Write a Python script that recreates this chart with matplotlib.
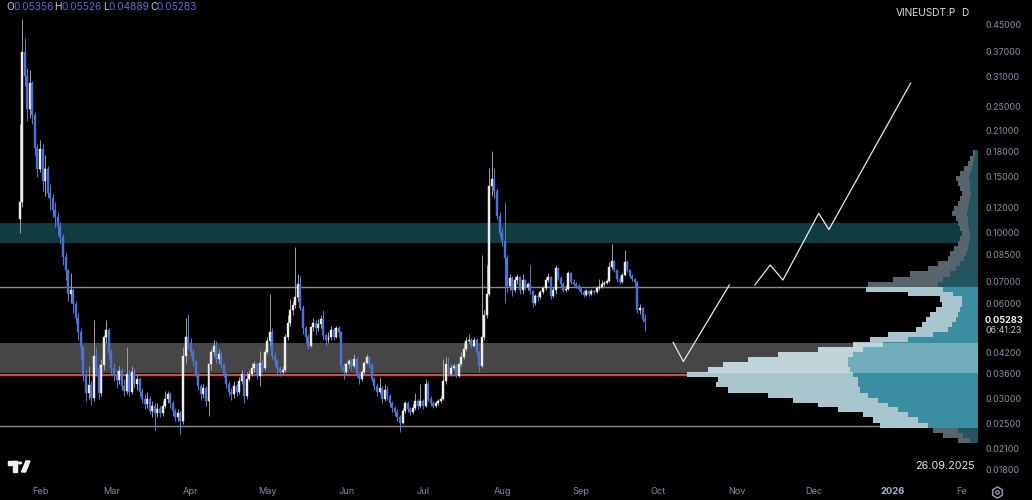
import numpy as np
import pandas as pd
import matplotlib
matplotlib.use("Agg")
import matplotlib.pyplot as plt
import matplotlib.dates as mdates
from matplotlib.patches import Rectangle, Polygon, Circle
from matplotlib.lines import Line2D

plt.rcParams['font.family'] = ['Inter', 'DejaVu Sans']

# ---------------- data ----------------
first_day = '2025-01-24'
first_open = 0.11

close = [
    0.125, 0.37, 0.31, 0.245, 0.295, 0.235, 0.185, 0.158, 0.183, 0.145,
    0.158, 0.133, 0.128, 0.118, 0.112, 0.105, 0.097, 0.084, 0.076, 0.064,
    0.066, 0.0595, 0.054, 0.0485, 0.0435, 0.0357, 0.0313, 0.0332, 0.0302, 0.041,
    0.0376, 0.0313, 0.0384, 0.0468, 0.0495, 0.0419, 0.0376, 0.0357, 0.0344, 0.0368,
    0.0330, 0.0318, 0.036, 0.0315, 0.0365, 0.0335, 0.0345, 0.0315, 0.0300, 0.0288,
    0.0300, 0.0275, 0.0285, 0.0270, 0.0278, 0.0270, 0.0285, 0.0300, 0.0310, 0.0290,
    0.0275, 0.0262, 0.0270, 0.0255, 0.041, 0.047, 0.045, 0.042, 0.0395, 0.036,
    0.033, 0.031, 0.0325, 0.0295, 0.0385, 0.042, 0.044, 0.040, 0.0415, 0.0385,
    0.036, 0.0335, 0.0315, 0.0310, 0.0330, 0.0315, 0.0340, 0.0360, 0.0305, 0.0345,
    0.0360, 0.0375, 0.0385, 0.0355, 0.039, 0.0375, 0.042, 0.0455, 0.0485, 0.041,
    0.0395, 0.0375, 0.0365, 0.037, 0.047, 0.052, 0.057, 0.059, 0.0625, 0.069,
    0.058, 0.050, 0.047, 0.044, 0.0505, 0.052, 0.050, 0.0515, 0.0535, 0.0475,
    0.046, 0.047, 0.0495, 0.047, 0.050, 0.0485, 0.038, 0.0365, 0.0385, 0.0395,
    0.038, 0.040, 0.036, 0.0345, 0.0365, 0.039, 0.0405, 0.0385, 0.0345, 0.033,
    0.0315, 0.0325, 0.0300, 0.0320, 0.0305, 0.0290, 0.0280, 0.0272, 0.0262, 0.0252,
    0.0275, 0.0290, 0.0278, 0.0272, 0.0280, 0.0295, 0.0285, 0.0295, 0.0285, 0.0335,
    0.0300, 0.0290, 0.0285, 0.0290, 0.0295, 0.0300, 0.0340, 0.0385, 0.036, 0.0375,
    0.038, 0.0355, 0.0385, 0.0405, 0.043, 0.0455, 0.046, 0.044, 0.046, 0.042,
    0.038, 0.047, 0.055, 0.064, 0.140, 0.147, 0.135, 0.113, 0.100, 0.094,
    0.083, 0.068, 0.072, 0.066, 0.071, 0.0725, 0.066, 0.071, 0.0675, 0.069,
    0.0655, 0.060, 0.063, 0.0625, 0.065, 0.067, 0.071, 0.0725, 0.063, 0.066,
    0.0775, 0.072, 0.069, 0.066, 0.0665, 0.0745, 0.070, 0.069, 0.068, 0.0665,
    0.065, 0.0635, 0.0655, 0.064, 0.0655, 0.065, 0.067, 0.0675, 0.069, 0.0695,
    0.0705, 0.078, 0.0815, 0.076, 0.0715, 0.070, 0.0735, 0.081, 0.0765, 0.073,
    0.0715, 0.070, 0.057, 0.058, 0.05356, 0.05283,
]

high = [
    0.22, 0.47, 0.41, 0.33, 0.325, 0.30, 0.24, 0.19, 0.196, 0.19,
    0.175, 0.162, 0.142, 0.132, 0.125, 0.116, 0.108, 0.099, 0.086, 0.077,
    0.0745, 0.067, 0.061, 0.056, 0.050, 0.044, 0.037, 0.038, 0.034, 0.053,
    0.0435, 0.0385, 0.040, 0.0475, 0.053, 0.050, 0.043, 0.039, 0.037, 0.038,
    0.0375, 0.0345, 0.0435, 0.037, 0.038, 0.0375, 0.036, 0.035, 0.0325, 0.031,
    0.0315, 0.0305, 0.0295, 0.029, 0.029, 0.0285, 0.0295, 0.0318, 0.0318, 0.0315,
    0.0295, 0.028, 0.0278, 0.0275, 0.0435, 0.054, 0.0555, 0.0465, 0.043, 0.040,
    0.0365, 0.0335, 0.0335, 0.033, 0.039, 0.043, 0.046, 0.0455, 0.043, 0.042,
    0.039, 0.0365, 0.034, 0.0325, 0.034, 0.0335, 0.035, 0.037, 0.0365, 0.0365,
    0.037, 0.039, 0.0395, 0.039, 0.0425, 0.040, 0.043, 0.047, 0.064, 0.050,
    0.042, 0.040, 0.038, 0.038, 0.048, 0.055, 0.062, 0.061, 0.090, 0.074,
    0.073, 0.059, 0.051, 0.048, 0.051, 0.054, 0.053, 0.0535, 0.055, 0.057,
    0.048, 0.0485, 0.051, 0.050, 0.051, 0.051, 0.049, 0.039, 0.039, 0.040,
    0.040, 0.0415, 0.0405, 0.0365, 0.037, 0.0395, 0.0415, 0.041, 0.039, 0.035,
    0.0335, 0.035, 0.033, 0.0335, 0.033, 0.031, 0.0295, 0.0285, 0.0278, 0.0266,
    0.028, 0.0295, 0.0296, 0.0282, 0.0288, 0.0312, 0.030, 0.0335, 0.030, 0.0345,
    0.034, 0.0305, 0.0295, 0.0296, 0.030, 0.0305, 0.040, 0.0405, 0.0405, 0.0385,
    0.039, 0.0385, 0.039, 0.042, 0.045, 0.047, 0.048, 0.0465, 0.047, 0.0465,
    0.0425, 0.085, 0.057, 0.079, 0.160, 0.180, 0.160, 0.138, 0.116, 0.103,
    0.125, 0.085, 0.074, 0.073, 0.073, 0.074, 0.073, 0.074, 0.0715, 0.070,
    0.079, 0.066, 0.064, 0.0645, 0.066, 0.068, 0.0725, 0.0745, 0.073, 0.0675,
    0.079, 0.078, 0.073, 0.070, 0.0685, 0.0755, 0.075, 0.0715, 0.070, 0.069,
    0.0675, 0.066, 0.0665, 0.066, 0.0665, 0.066, 0.068, 0.0715, 0.071, 0.0705,
    0.0715, 0.081, 0.092, 0.082, 0.077, 0.073, 0.0745, 0.088, 0.082, 0.077,
    0.074, 0.072, 0.0705, 0.0595, 0.0585, 0.05526,
]

low = [
    0.10, 0.12, 0.29, 0.225, 0.23, 0.22, 0.175, 0.150, 0.155, 0.135,
    0.13, 0.128, 0.118, 0.112, 0.104, 0.098, 0.092, 0.079, 0.071, 0.061,
    0.060, 0.056, 0.052, 0.046, 0.040, 0.034, 0.0295, 0.030, 0.0287, 0.0295,
    0.0355, 0.030, 0.0305, 0.037, 0.045, 0.040, 0.036, 0.034, 0.0325, 0.0335,
    0.032, 0.0305, 0.031, 0.0305, 0.031, 0.0325, 0.032, 0.0305, 0.0292, 0.0278,
    0.028, 0.0268, 0.0262, 0.0240, 0.0262, 0.0262, 0.0265, 0.028, 0.0292, 0.028,
    0.0265, 0.0255, 0.0255, 0.0233, 0.025, 0.039, 0.043, 0.041, 0.038, 0.035,
    0.032, 0.0298, 0.0302, 0.0285, 0.0265, 0.037, 0.041, 0.039, 0.0385, 0.0375,
    0.035, 0.0325, 0.0305, 0.0298, 0.0302, 0.0305, 0.031, 0.0335, 0.029, 0.030,
    0.034, 0.0355, 0.0365, 0.0345, 0.033, 0.0365, 0.037, 0.0415, 0.044, 0.040,
    0.038, 0.0355, 0.0355, 0.036, 0.0365, 0.046, 0.051, 0.055, 0.058, 0.061,
    0.057, 0.048, 0.045, 0.043, 0.0435, 0.049, 0.048, 0.049, 0.050, 0.046,
    0.044, 0.045, 0.046, 0.046, 0.0465, 0.047, 0.037, 0.0345, 0.036, 0.0375,
    0.037, 0.0375, 0.035, 0.0335, 0.034, 0.036, 0.0385, 0.0375, 0.034, 0.032,
    0.0305, 0.031, 0.029, 0.0295, 0.0298, 0.0282, 0.0272, 0.0265, 0.0255, 0.0235,
    0.025, 0.027, 0.0272, 0.0266, 0.0268, 0.0276, 0.0278, 0.028, 0.0278, 0.0282,
    0.0295, 0.0284, 0.028, 0.0282, 0.0286, 0.029, 0.0298, 0.0335, 0.0355, 0.0355,
    0.037, 0.035, 0.035, 0.038, 0.040, 0.0425, 0.045, 0.0432, 0.0435, 0.041,
    0.0365, 0.0375, 0.046, 0.054, 0.063, 0.130, 0.128, 0.110, 0.097, 0.091,
    0.060, 0.065, 0.066, 0.063, 0.065, 0.069, 0.064, 0.064, 0.066, 0.066,
    0.064, 0.0585, 0.059, 0.061, 0.062, 0.064, 0.066, 0.070, 0.062, 0.0625,
    0.064, 0.071, 0.0675, 0.065, 0.065, 0.066, 0.069, 0.068, 0.067, 0.0655,
    0.064, 0.0625, 0.063, 0.063, 0.0635, 0.064, 0.0645, 0.066, 0.067, 0.068,
    0.069, 0.070, 0.077, 0.075, 0.070, 0.069, 0.0695, 0.073, 0.075, 0.072,
    0.0705, 0.068, 0.056, 0.0555, 0.0525, 0.04889,
]

# levels drawn on the chart
supply_zone = (0.0930, 0.1068)
demand_zone = (0.0362, 0.0448)
va_high = 0.0674
va_low = 0.0246
poc = 0.0357

# projected path (two pieces)
proj1_dates = ['2025-10-07', '2025-10-11', '2025-10-29']
proj1_price = [0.0451, 0.0393, 0.0684]
proj2_dates = ['2025-11-08', '2025-11-14', '2025-11-19', '2025-12-03', '2025-12-07', '2026-01-08']
proj2_price = [0.0684, 0.0791, 0.0709, 0.1149, 0.1022, 0.295]

# visible-range volume profile
vp_price = [0.178, 0.171, 0.1645, 0.1585, 0.1535, 0.148, 0.1425, 0.1375, 0.133, 0.128,
            0.1235, 0.119, 0.1149, 0.1107, 0.1068, 0.1030, 0.0993, 0.0957, 0.0923, 0.0890,
            0.0857, 0.0827, 0.0797, 0.0769, 0.0741, 0.0714, 0.0689, 0.0664, 0.0641, 0.0618,
            0.0596, 0.0574, 0.0553, 0.0534, 0.0514, 0.0496, 0.0478, 0.0461, 0.0445, 0.0429,
            0.0413, 0.0398, 0.0384, 0.0370, 0.0357, 0.0344, 0.0332, 0.0320, 0.0308, 0.0297,
            0.0287, 0.0277, 0.0267, 0.0257, 0.0248, 0.0239, 0.0231, 0.0222]
vp_total = [0.5, 0.8, 1.0, 1.4, 1.8, 2.2, 2.0, 1.8, 1.6, 1.8,
            2.0, 2.4, 2.6, 2.2, 2.0, 1.8, 1.6, 1.8, 2.0, 2.4,
            2.8, 3.0, 4.0, 5.0, 6.8, 8.5, 11.0, 11.2, 7.0, 3.8,
            3.6, 4.2, 4.8, 5.2, 5.6, 6.2, 9.0, 10.8, 12.5, 16.0,
            20.0, 23.0, 25.5, 27.0, 29.1, 26.0, 26.2, 25.0, 21.0, 18.5,
            16.0, 14.0, 11.5, 10.5, 9.8, 4.5, 3.5, 2.0]
vp_up = [0.3, 0.4, 0.5, 0.6, 0.8, 0.9, 0.8, 0.8, 0.7, 0.8,
         0.9, 1.0, 1.1, 1.0, 1.0, 0.9, 0.8, 0.8, 0.9, 1.0,
         1.2, 1.4, 1.8, 2.2, 2.8, 3.5, 4.0, 3.5, 2.5, 1.6,
         1.6, 1.8, 2.0, 2.2, 2.6, 3.0, 4.5, 7.0, 9.5, 11.5,
         12.5, 13.0, 13.0, 12.8, 12.5, 12.0, 12.0, 11.8, 11.0, 10.0,
         9.0, 8.0, 7.0, 6.0, 5.0, 2.0, 1.5, 0.8]

price_ticks = [0.45, 0.37, 0.31, 0.25, 0.21, 0.18, 0.15, 0.12, 0.10, 0.085,
               0.07, 0.06, 0.042, 0.036, 0.03, 0.025, 0.021, 0.018]
month_ticks = ['2025-02-01', '2025-03-01', '2025-04-01', '2025-05-01', '2025-06-01',
               '2025-07-01', '2025-08-01', '2025-09-01', '2025-10-01', '2025-11-01',
               '2025-12-01', '2026-01-01', '2026-02-01']
month_labels = ['Feb', 'Mar', 'Apr', 'May', 'Jun', 'Jul', 'Aug', 'Sep', 'Oct', 'Nov',
                'Dec', '2026', 'Fe']

# ---------------- figure ----------------
W, H = 1032, 500
fig = plt.figure(figsize=(W / 100, H / 100), dpi=100, facecolor='black')
PLOT_R, PLOT_B = 978, 478
ax = fig.add_axes([0, (H - PLOT_B) / H, PLOT_R / W, PLOT_B / H])
ax.set_yscale('log')
ax.set_ylim(0.0169, 0.539)
x0 = mdates.date2num(pd.Timestamp('2025-01-16 08:00'))
x1 = mdates.date2num(pd.Timestamp('2026-02-03 09:30'))
ax.set_xlim(x0, x1)

ax2 = ax.twiny()
ax2.set_xlim(97.8, 0)
ax.set_zorder(ax2.get_zorder() + 1)
ax.patch.set_visible(False)
ax2.patch.set_visible(False)
fig.patch.set_facecolor('black')

for a in (ax, ax2):
    for s in a.spines.values():
        s.set_visible(False)
ax2.xaxis.set_visible(False)

# background levels (under the profile)
ax2.axhspan(supply_zone[0], supply_zone[1], color='#103b40', lw=0, zorder=0.5)
ax2.axhline(va_high, color='#8a8a8a', lw=1.0, zorder=0.8)
ax2.axhline(va_low, color='#8a8a8a', lw=1.0, zorder=0.8)
ax2.axhline(poc, color='#c4514b', lw=1.7, zorder=0.8)

# volume profile
lp = np.log(np.array(vp_price))
mids = (lp[:-1] + lp[1:]) / 2
edges = np.concatenate([[lp[0] + (lp[0] - mids[0])], mids, [lp[-1] - (mids[-1] - lp[-1])]])
top = np.exp(edges[:-1])
bot = np.exp(edges[1:])
in_va = [(va_low <= p <= va_high) for p in vp_price]
c_tot = ['#a9c5cd' if v else '#56666c' for v in in_va]
c_up = ['#3b8ea1' if v else '#235560' for v in in_va]
ax2.barh(bot, vp_total, height=top - bot, left=0, align='edge', color=c_tot, lw=0, zorder=1)
ax2.barh(bot, vp_up, height=top - bot, left=0, align='edge', color=c_up, lw=0, zorder=1.1)

# demand zone overlay (on top of profile, under candles)
ax.axhspan(demand_zone[0], demand_zone[1], color='white', alpha=0.28, lw=0, zorder=1)

# candles
dates = pd.date_range(first_day, periods=len(close), freq='D')
xd = mdates.date2num(dates)
opens = [first_open] + close[:-1]
o = np.array(opens); c = np.array(close)
h = np.maximum.reduce([np.array(high), o, c])
l = np.minimum.reduce([np.array(low), o, c])
up = c >= o
body_lo = np.minimum(o, c)
body_h = np.abs(c - o)
up_body, dn_body = '#ededed', '#4d72d6'
up_wick, dn_wick = '#a0a0a0', '#5b79cf'
ax.vlines(xd[up], l[up], h[up], color=up_wick, lw=0.7, zorder=3)
ax.vlines(xd[~up], l[~up], h[~up], color=dn_wick, lw=0.7, zorder=3)
ax.bar(xd[up], body_h[up], bottom=body_lo[up], width=0.78, color=up_body,
       edgecolor=up_body, lw=0.3, zorder=3.2)
ax.bar(xd[~up], body_h[~up], bottom=body_lo[~up], width=0.78, color=dn_body,
       edgecolor=dn_body, lw=0.3, zorder=3.2)

# projection
ax.plot(mdates.date2num(pd.to_datetime(proj1_dates)), proj1_price, color='#e8e8e8', lw=0.9, zorder=4)
ax.plot(mdates.date2num(pd.to_datetime(proj2_dates)), proj2_price, color='#e8e8e8', lw=0.9, zorder=4)

# price scale
ax.yaxis.tick_right()
ax.set_yticks(price_ticks)
ax.set_yticklabels([f'{v:.5f}' for v in price_ticks])
ax.yaxis.set_minor_locator(matplotlib.ticker.NullLocator())
ax.tick_params(axis='y', length=0, pad=5.5, labelsize=6.4, labelcolor='#8391a6')
ax.set_xticks([])
ytr = ax.get_yaxis_transform()
ax.text(1 + 7 / PLOT_R, 0.55, '0.55000', transform=ytr, fontsize=6.4, color='#8391a6',
        va='center', ha='left', clip_on=False)
ax.text(1 + 7 / PLOT_R, close[-1], f'{close[-1]:.5f}', transform=ytr, fontsize=6.6,
        color='#f2f2f2', fontweight='bold', va='center', ha='left', clip_on=False)
ax.text(1 + 7 / PLOT_R, 0.0491, '06:41:23', transform=ytr, fontsize=6.4, color='#c3c7cd',
        va='center', ha='left', clip_on=False)

# time scale
xtr = ax.get_xaxis_transform()
ylab = -(492 - PLOT_B) / PLOT_B
for d, lab in zip(month_ticks, month_labels):
    xm = mdates.date2num(pd.Timestamp(d))
    kw = dict(fontsize=6.6, color='#7d8ea6')
    if lab == '2026':
        kw = dict(fontsize=6.8, color='#9fb2cf', fontweight='bold')
    if lab == 'Fe':
        xm = mdates.date2num(pd.Timestamp('2026-01-28'))
    ax.text(xm, ylab, lab, transform=xtr, ha='center', va='center', clip_on=False, **kw)


def fx(px):
    return px / W


def fy(py):
    return 1 - py / H


# legend line (OHLC)
pieces = [(6, 'O', '#c9ccd2'), (13, '0.05356', '#5a6cd0'),
          (54, 'H', '#c9ccd2'), (61, '0.05526', '#5a6cd0'),
          (103, 'L', '#c9ccd2'), (108.5, '0.04889', '#5a6cd0'),
          (150, 'C', '#c9ccd2'), (156, '0.05283', '#5a6cd0')]
for px_, s, col in pieces:
    fig.text(fx(px_), fy(7.5), s, color=col, fontsize=7.3, ha='left', va='center')

fig.text(fx(896), fy(12.5), 'VINEUSDT.P', color='#dcdfe3', fontsize=7.3, ha='left', va='center')
fig.text(fx(961), fy(12.5), 'D', color='#dcdfe3', fontsize=7.3, ha='left', va='center')
fig.text(fx(915), fy(466), '26.09.2025', color='#e6e6e6', fontsize=7.8, ha='left', va='center')

# TradingView logo
logo_col = '#f0f0f0'
fig.add_artist(Rectangle((fx(8), fy(465)), 9 / W, 4 / H, color=logo_col, transform=fig.transFigure))
fig.add_artist(Rectangle((fx(13), fy(472)), 4 / W, 11 / H, color=logo_col, transform=fig.transFigure))
fig.add_artist(Circle((fx(20), fy(463)), 1.6 / W, color=logo_col, transform=fig.transFigure))
fig.add_artist(Polygon([(fx(21.5), fy(472)), (fx(25.5), fy(472)), (fx(30), fy(461)), (fx(26), fy(461))],
                       closed=True, color=logo_col, transform=fig.transFigure))

# settings gear icon
fig.add_artist(Line2D([fx(997)], [fy(492)], marker='h', markersize=8, markerfacecolor='none',
                      markeredgecolor='#8a97aa', markeredgewidth=1.1, transform=fig.transFigure))
fig.add_artist(Line2D([fx(997)], [fy(492)], marker='o', markersize=2.6, markerfacecolor='none',
                      markeredgecolor='#8a97aa', markeredgewidth=0.9, transform=fig.transFigure))

fig.savefig('out.png', dpi=100, facecolor='black')
